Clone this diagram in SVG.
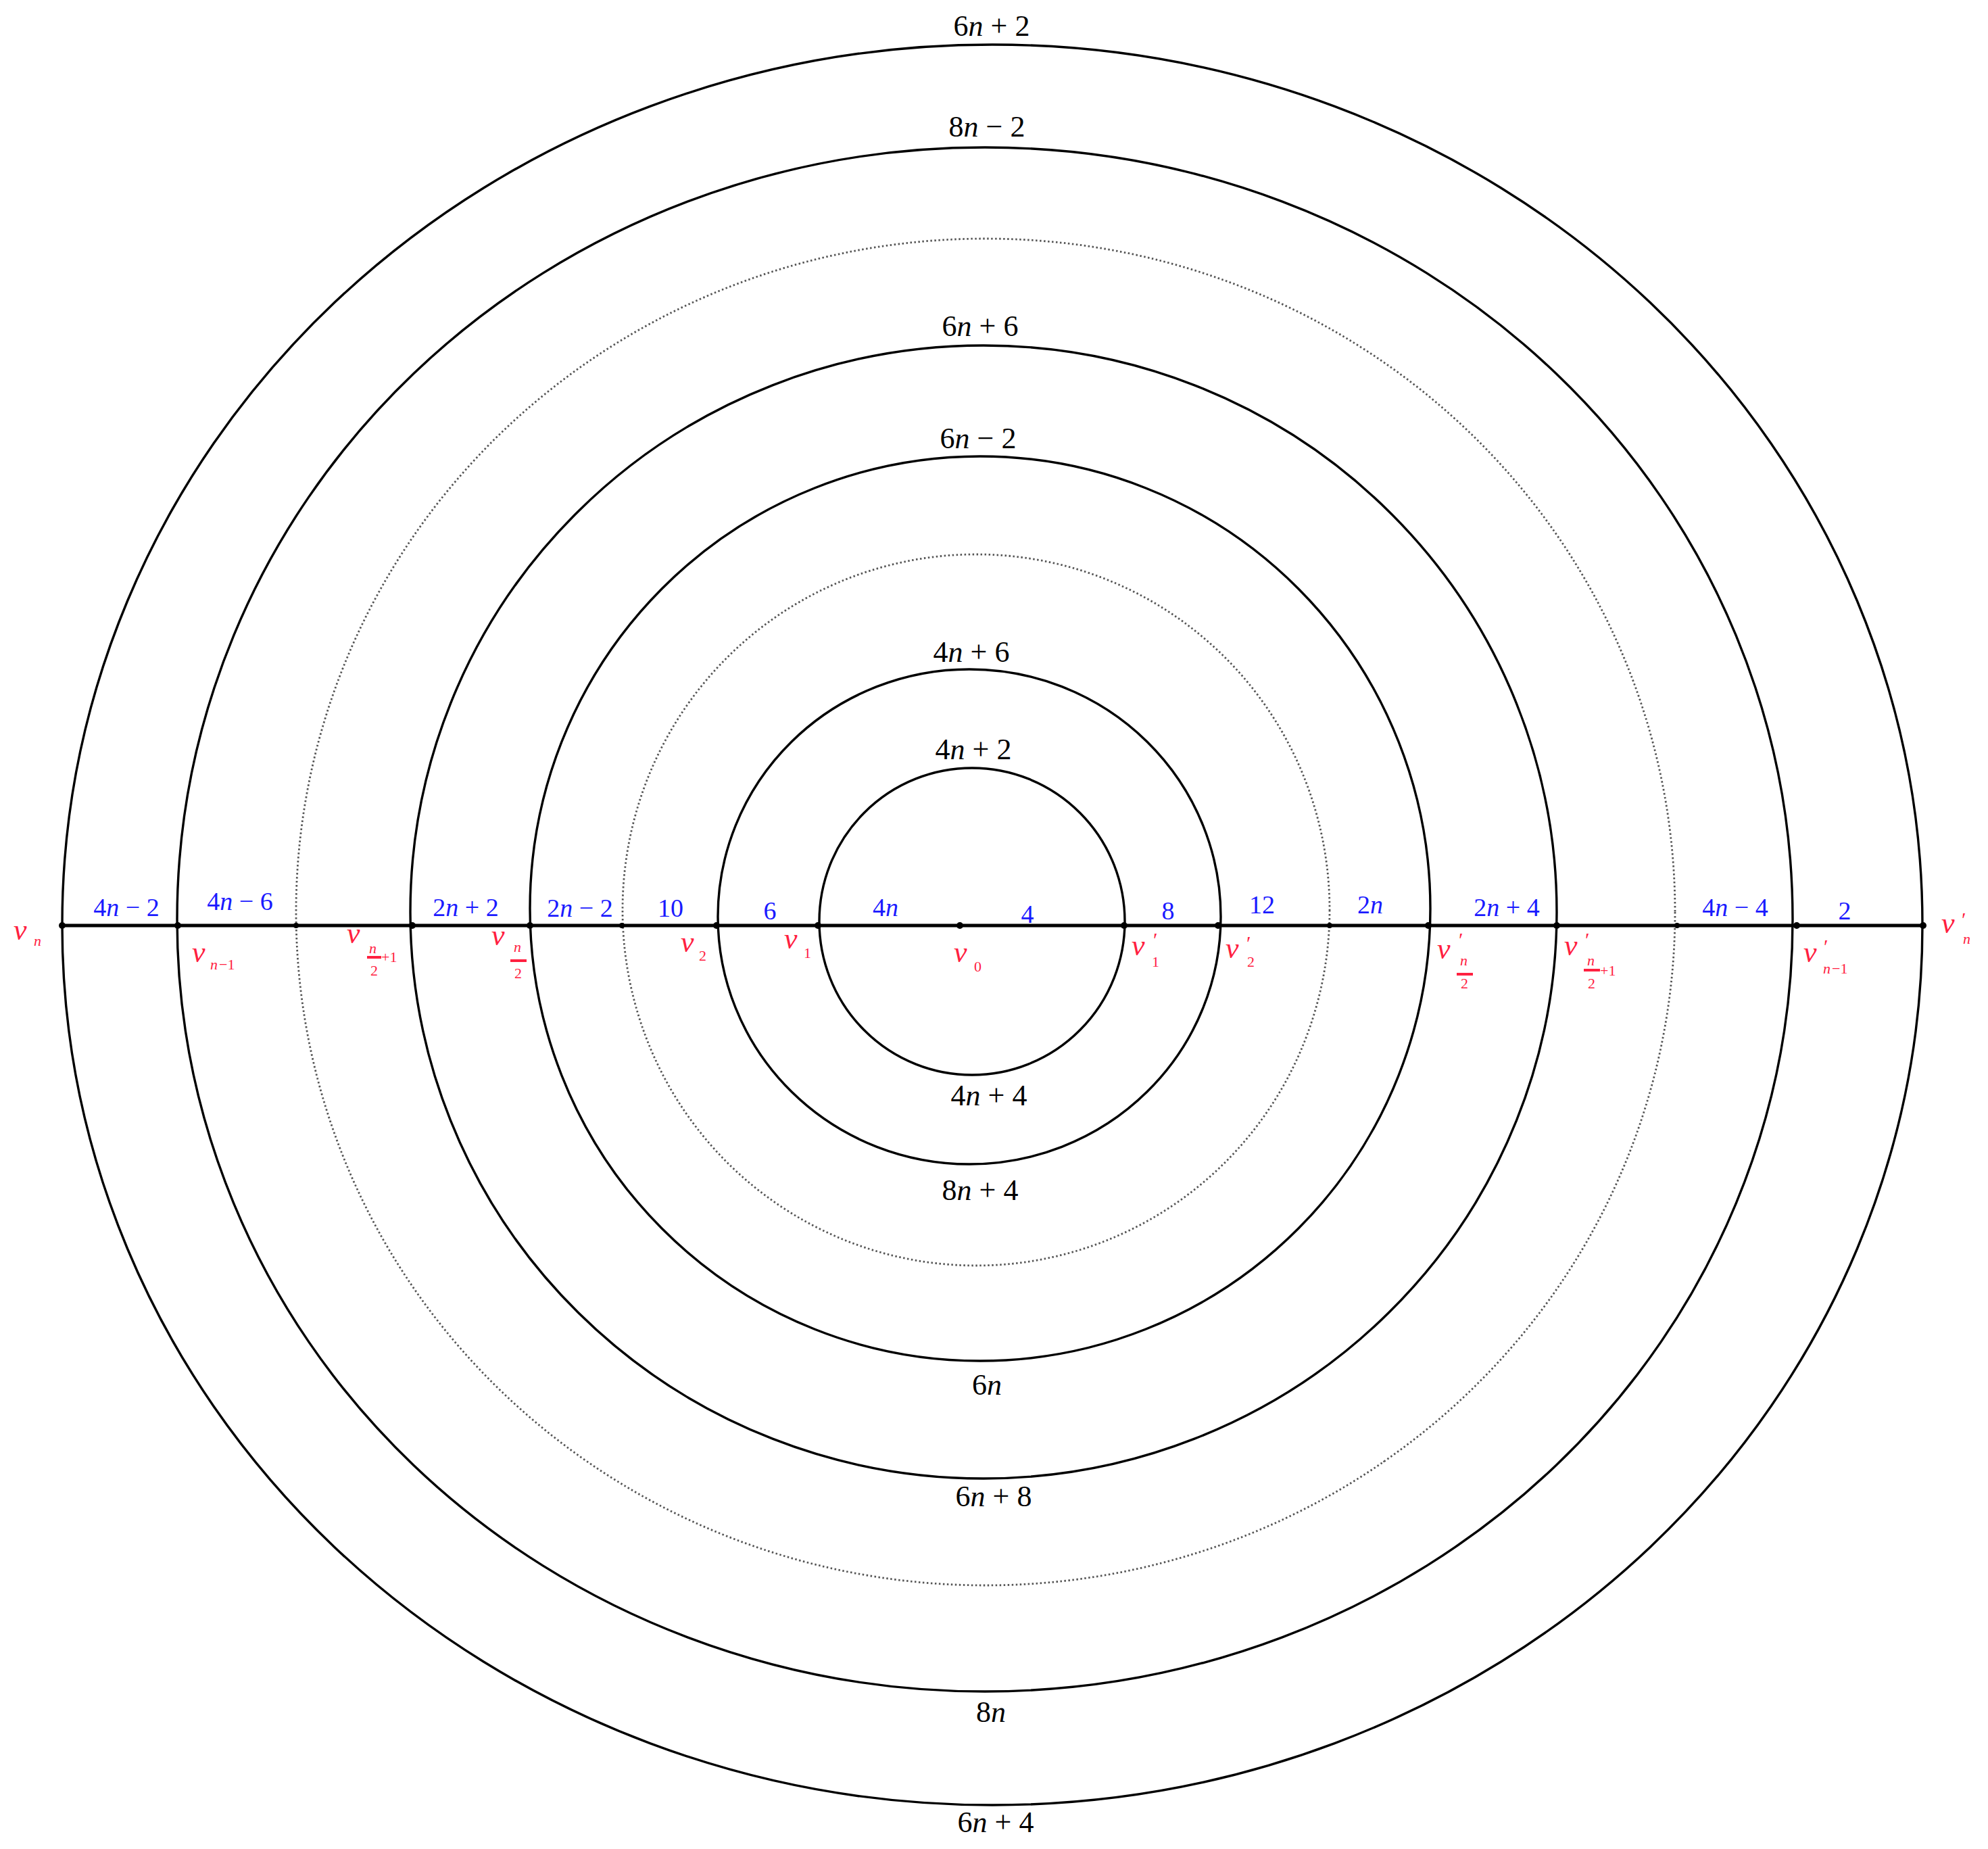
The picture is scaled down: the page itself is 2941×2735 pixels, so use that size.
<svg xmlns="http://www.w3.org/2000/svg" width="2941" height="2735" viewBox="0 0 2941 2735">
<style>
.ring{fill:none;stroke:#000;stroke-width:3.4}
.dot{fill:none;stroke:#555;stroke-width:2.8;stroke-dasharray:2.5 3.5}
.axis{stroke:#000;stroke-width:5}
.vd{fill:#000}
.bl{font-family:"Liberation Serif","Times New Roman",serif;font-size:44px;fill:#000;text-anchor:middle}
.el{font-family:"Liberation Serif","Times New Roman",serif;font-size:38px;fill:#1a1aff;text-anchor:middle}
.vl{font-family:"Liberation Serif","Times New Roman",serif;font-size:44px;font-style:italic;fill:#ff2040}
.sb{font-family:"Liberation Serif","Times New Roman",serif;font-size:22px;font-style:italic;fill:#ff2040}
.sr{font-family:"Liberation Serif","Times New Roman",serif;font-size:22px;fill:#ff2040}
.pr{font-family:"Liberation Serif","Times New Roman",serif;font-size:30px;fill:#ff2040}
.fb{stroke:#ff2040;stroke-width:4}
.i{font-style:italic}
</style>
<rect width="2941" height="2735" fill="#fff"/>
<g id="connectors">
<ellipse class="ring" cx="1468" cy="1368" rx="1376" ry="1302"/>
<ellipse class="ring" cx="1457" cy="1360" rx="1195" ry="1142"/>
<ellipse class="dot" cx="1458" cy="1349" rx="1020" ry="996"/>
<ellipse class="ring" cx="1455" cy="1349" rx="848" ry="838"/>
<ellipse class="ring" cx="1450" cy="1344" rx="666" ry="669"/>
<ellipse class="dot" cx="1444" cy="1346" rx="523" ry="526"/>
<ellipse class="ring" cx="1434" cy="1356" rx="372" ry="366"/>
<ellipse class="ring" cx="1438" cy="1363" rx="226" ry="227"/>
<line class="axis" x1="92" y1="1369" x2="2845" y2="1369"/>
</g>
<g id="ring-labels">
<text class="bl" x="1467" y="53">6<tspan class="i">n</tspan> + 2</text>
<text class="bl" x="1460" y="202">8<tspan class="i">n</tspan> − 2</text>
<text class="bl" x="1450" y="497">6<tspan class="i">n</tspan> + 6</text>
<text class="bl" x="1447" y="663">6<tspan class="i">n</tspan> − 2</text>
<text class="bl" x="1437" y="979">4<tspan class="i">n</tspan> + 6</text>
<text class="bl" x="1440" y="1123">4<tspan class="i">n</tspan> + 2</text>
<text class="bl" x="1463" y="1635">4<tspan class="i">n</tspan> + 4</text>
<text class="bl" x="1450" y="1775">8<tspan class="i">n</tspan> + 4</text>
<text class="bl" x="1460" y="2063">6<tspan class="i">n</tspan></text>
<text class="bl" x="1470" y="2228">6<tspan class="i">n</tspan> + 8</text>
<text class="bl" x="1466" y="2547">8<tspan class="i">n</tspan></text>
<text class="bl" x="1473" y="2710">6<tspan class="i">n</tspan> + 4</text>
</g>
<g id="edge-labels">
<text class="el" x="187" y="1355">4<tspan class="i">n</tspan> − 2</text>
<text class="el" x="355" y="1346">4<tspan class="i">n</tspan> − 6</text>
<text class="el" x="689" y="1355">2<tspan class="i">n</tspan> + 2</text>
<text class="el" x="858" y="1356">2<tspan class="i">n</tspan> − 2</text>
<text class="el" x="992" y="1356">10</text>
<text class="el" x="1139" y="1360">6</text>
<text class="el" x="1310" y="1355">4<tspan class="i">n</tspan></text>
<text class="el" x="1520" y="1365">4</text>
<text class="el" x="1728" y="1360">8</text>
<text class="el" x="1867" y="1351">12</text>
<text class="el" x="2027" y="1351">2<tspan class="i">n</tspan></text>
<text class="el" x="2229" y="1355">2<tspan class="i">n</tspan> + 4</text>
<text class="el" x="2567" y="1355">4<tspan class="i">n</tspan> − 4</text>
<text class="el" x="2729" y="1360">2</text>
</g>
<g id="v_n"><circle class="vd" cx="92" cy="1369" r="5"/><text class="vl" x="20" y="1390">v</text><text class="sb" x="50" y="1399">n</text></g>
<g id="v_n-1"><circle class="vd" cx="263" cy="1369" r="5"/><text class="vl" x="284" y="1423">v</text><text class="sb" x="311" y="1434">n</text><text class="sr" x="324" y="1434">−1</text></g>
<g id="dots-left"><circle class="vd" cx="438" cy="1369" r="4"/><circle class="vd" cx="920" cy="1369" r="4"/></g>
<g id="v_n2p1"><circle class="vd" cx="610" cy="1369" r="5"/><text class="vl" x="513" y="1395">v</text><text class="sb" x="546" y="1410">n</text><line class="fb" x1="543" y1="1416" x2="564" y2="1416"/><text class="sr" x="548" y="1443">2</text><text class="sr" x="564" y="1423">+1</text></g>
<g id="v_n2"><circle class="vd" cx="784" cy="1369" r="5"/><text class="vl" x="727" y="1398">v</text><text class="sb" x="760" y="1408">n</text><line class="fb" x1="755" y1="1421" x2="779" y2="1421"/><text class="sr" x="761" y="1447">2</text></g>
<g id="v_2"><circle class="vd" cx="1060" cy="1369" r="5"/><text class="vl" x="1007" y="1408">v</text><text class="sr" x="1034" y="1421">2</text></g>
<g id="v_1"><circle class="vd" cx="1210" cy="1369" r="5"/><text class="vl" x="1160" y="1403">v</text><text class="sr" x="1189" y="1417">1</text></g>
<g id="v_0"><circle class="vd" cx="1420" cy="1369" r="5"/><text class="vl" x="1411" y="1423">v</text><text class="sr" x="1441" y="1437">0</text></g>
<g id="v1p"><circle class="vd" cx="1663" cy="1369" r="5"/><text class="vl" x="1674" y="1413">v</text><text class="pr" x="1706" y="1400">′</text><text class="sr" x="1704" y="1430">1</text></g>
<g id="v2p"><circle class="vd" cx="1802" cy="1369" r="5"/><text class="vl" x="1813" y="1417">v</text><text class="pr" x="1844" y="1405">′</text><text class="sr" x="1845" y="1430">2</text></g>
<g id="dots-right"><circle class="vd" cx="1967" cy="1369" r="4"/><circle class="vd" cx="2481" cy="1369" r="4"/></g>
<g id="vn2p"><circle class="vd" cx="2113" cy="1369" r="5"/><text class="vl" x="2126" y="1418">v</text><text class="pr" x="2158" y="1400">′</text><text class="sb" x="2160" y="1428">n</text><line class="fb" x1="2155" y1="1441" x2="2179" y2="1441"/><text class="sr" x="2161" y="1462">2</text></g>
<g id="vn2p1p"><circle class="vd" cx="2303" cy="1369" r="5"/><text class="vl" x="2314" y="1413">v</text><text class="pr" x="2345" y="1400">′</text><text class="sb" x="2348" y="1428">n</text><line class="fb" x1="2343" y1="1435" x2="2367" y2="1435"/><text class="sr" x="2349" y="1462">2</text><text class="sr" x="2367" y="1443">+1</text></g>
<g id="vn-1p"><circle class="vd" cx="2658" cy="1369" r="5"/><text class="vl" x="2668" y="1423">v</text><text class="pr" x="2698" y="1410">′</text><text class="sb" x="2697" y="1440">n</text><text class="sr" x="2710" y="1440">−1</text></g>
<g id="vnp"><circle class="vd" cx="2845" cy="1369" r="5"/><text class="vl" x="2872" y="1380">v</text><text class="pr" x="2902" y="1370">′</text><text class="sb" x="2904" y="1396">n</text></g>
</svg>
